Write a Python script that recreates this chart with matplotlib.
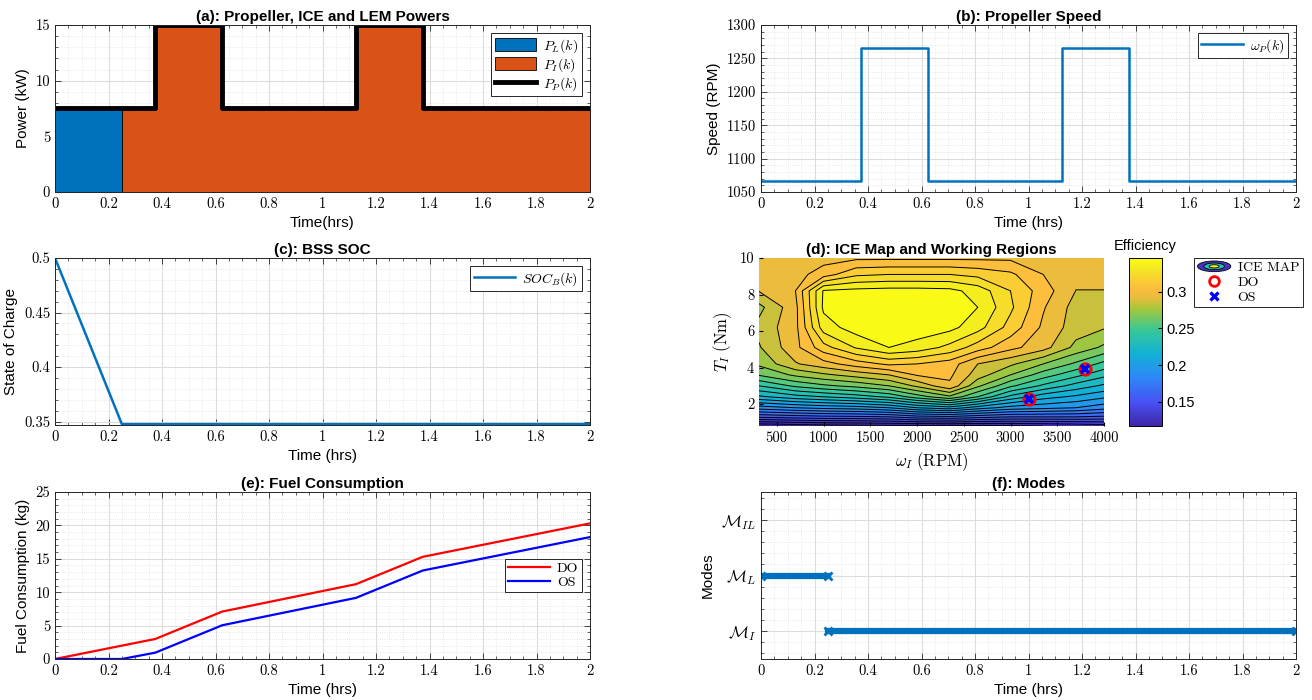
"""
hybrid_ship_results.py — six-panel overview of the hybrid propulsion run:
powers, propeller speed, battery SOC, ICE map, fuel use and modes.
"""

import matplotlib
matplotlib.use("Agg")
import matplotlib.pyplot as plt
import numpy as np
from matplotlib.colors import LinearSegmentedColormap, Normalize
from matplotlib.cm import ScalarMappable
from matplotlib.lines import Line2D
from matplotlib.patches import Ellipse, Patch, Rectangle
from matplotlib.legend_handler import HandlerBase
from matplotlib.ticker import AutoMinorLocator, FuncFormatter

plt.rcParams["font.family"] = ["Liberation Sans", "DejaVu Sans"]
plt.rcParams["mathtext.fontset"] = "cm"

# ── Data ──────────────────────────────────────────────────────────────────────

# (a) powers, step-wise in time (hrs)
power_t = [0, 0.25, 0.375, 0.625, 1.125, 1.375, 2.0]
p_prop = [7.5, 7.5, 15, 7.5, 15, 7.5, 7.5]
p_lem = [7.5, 0, 0, 0, 0, 0, 0]
p_ice = [0, 7.5, 15, 7.5, 15, 7.5, 7.5]

# (b) propeller speed
speed_t = [0, 0.375, 0.625, 1.125, 1.375, 2.0]
speed_rpm = [1066, 1266, 1066, 1266, 1066, 1066]

# (c) battery SOC
soc_t = [0, 0.25, 2.0]
soc = [0.5, 0.3476, 0.3476]

# (d) ICE efficiency map + operating points
map_speed = [310, 700, 1000, 1350, 1700, 2000, 2350, 2650, 3000, 3350, 3700, 4000]
map_torque = [0.8, 1.3, 1.8, 2.4, 3.0, 3.6, 4.2, 5.1, 6.2, 7.3, 8.2, 9.1, 10.0]
map_eff = [
    [0.110, 0.113, 0.115, 0.116, 0.117, 0.117, 0.118, 0.117, 0.118, 0.120, 0.122, 0.125],
    [0.152, 0.155, 0.157, 0.158, 0.160, 0.166, 0.168, 0.164, 0.160, 0.160, 0.160, 0.158],
    [0.185, 0.190, 0.193, 0.195, 0.200, 0.210, 0.216, 0.205, 0.196, 0.193, 0.190, 0.184],
    [0.218, 0.226, 0.230, 0.235, 0.242, 0.255, 0.268, 0.250, 0.227, 0.214, 0.208, 0.202],
    [0.240, 0.252, 0.258, 0.263, 0.270, 0.282, 0.298, 0.272, 0.252, 0.238, 0.226, 0.218],
    [0.261, 0.272, 0.278, 0.284, 0.290, 0.301, 0.302, 0.285, 0.270, 0.255, 0.243, 0.233],
    [0.272, 0.289, 0.296, 0.305, 0.312, 0.310, 0.305, 0.290, 0.282, 0.270, 0.258, 0.247],
    [0.279, 0.297, 0.316, 0.331, 0.340, 0.336, 0.327, 0.315, 0.303, 0.294, 0.277, 0.268],
    [0.283, 0.297, 0.335, 0.345, 0.346, 0.346, 0.343, 0.334, 0.316, 0.298, 0.285, 0.281],
    [0.277, 0.297, 0.342, 0.345, 0.346, 0.346, 0.345, 0.340, 0.322, 0.301, 0.286, 0.286],
    [0.2905, 0.300, 0.341, 0.343, 0.344, 0.344, 0.343, 0.336, 0.320, 0.305, 0.2898, 0.2898],
    [0.292, 0.296, 0.305, 0.318, 0.320, 0.320, 0.320, 0.317, 0.312, 0.300, 0.293, 0.293],
    [0.293, 0.294, 0.296, 0.298, 0.298, 0.298, 0.298, 0.298, 0.298, 0.296, 0.294, 0.294],
]
op_speed = [3200, 3800]
op_torque = [2.3, 3.9]

# (e) cumulative fuel
fuel_t = [0, 0.25, 0.375, 0.625, 1.125, 1.375, 2.0]
fuel_do = [0, 2.0, 3.0, 7.1, 11.2, 15.3, 20.3]
fuel_os = [0, 0, 0.95, 5.05, 9.15, 13.25, 18.25]

# (f) operating modes (1 = M_I, 2 = M_L, 3 = M_IL)
mode_l_t = [0, 0.25]
mode_l = [2, 2]
mode_i_t = [0.25, 2.0]
mode_i = [1, 1]
mode_ticks = [1, 2, 3]
mode_labels = [r"$\mathcal{M}_{I}$", r"$\mathcal{M}_{L}$", r"$\mathcal{M}_{IL}$"]

# ── Style ─────────────────────────────────────────────────────────────────────

BLUE = "#0072BD"
ORANGE = "#D95319"
PARULA = LinearSegmentedColormap.from_list("parula", [
    (0.000, (0.2422, 0.1504, 0.6603)),
    (0.143, (0.2810, 0.3228, 0.9579)),
    (0.286, (0.1786, 0.5289, 0.9682)),
    (0.429, (0.0689, 0.6948, 0.8394)),
    (0.571, (0.2161, 0.7843, 0.5923)),
    (0.700, (0.6500, 0.7800, 0.2300)),
    (0.760, (0.9000, 0.7400, 0.2400)),
    (0.820, (0.9900, 0.7400, 0.2400)),
    (0.900, (0.9650, 0.8500, 0.1700)),
    (0.950, (0.9600, 0.9300, 0.1200)),
    (1.000, (0.9769, 0.9839, 0.0805))])

W, H = 1312, 700


def rect(left, right, top, bottom):
    return [left / W, 1 - bottom / H, (right - left) / W, (bottom - top) / H]


def matlab_axes(ax, yminor=5):
    ax.set_axisbelow(True)
    ax.grid(True, which="major", color="#dcdcdc", lw=0.8)
    ax.grid(True, which="minor", color="#e2e2e2", lw=0.6, ls=":")
    ax.xaxis.set_minor_locator(AutoMinorLocator(4))
    ax.yaxis.set_minor_locator(AutoMinorLocator(yminor))
    ax.tick_params(which="both", direction="in", top=True, right=True,
                   labelsize=10.5, labelfontfamily="cmr10", color="#262626")
    ax.tick_params(which="major", length=4, width=0.6)
    ax.tick_params(which="minor", length=2, width=0.5)
    for s in ax.spines.values():
        s.set_color("#262626")
        s.set_linewidth(0.7)
    ax.xaxis.set_major_formatter(FuncFormatter(lambda v, _: f"{v:g}"))
    ax.yaxis.set_major_formatter(FuncFormatter(lambda v, _: f"{v:g}"))


def time_axis(ax, label="Time (hrs)"):
    ax.set_xlim(0, 2)
    ax.set_xticks(np.arange(0, 2.01, 0.2))
    ax.set_xlabel(label, fontsize=11)


def legend(ax, handles, labels, **kw):
    opts = dict(fancybox=False, edgecolor="#262626", framealpha=1, fontsize=10,
                borderaxespad=0.6, handlelength=3.0, labelspacing=0.1,
                borderpad=0.25, handletextpad=0.5)
    opts.update(kw)
    lg = ax.legend(handles, labels, **opts)
    lg.get_frame().set_linewidth(0.7)
    return lg


class ContourKey(HandlerBase):
    """Legend key that mimics MATLAB's contour icon."""
    def create_artists(self, legend, orig_handle, xdescent, ydescent,
                       width, height, fontsize, trans):
        cx, cy = width / 2 - xdescent, height / 2 - ydescent
        out = []
        for scale, t in ((1.0, 0.05), (0.62, 0.5), (0.3, 0.97)):
            out.append(Ellipse((cx, cy), width * scale, height * 1.1 * scale,
                               facecolor=PARULA(t), edgecolor="k", lw=0.6,
                               transform=trans))
        return out


TITLE = dict(fontsize=11, fontweight="bold", pad=3)

fig = plt.figure(figsize=(W / 100, H / 100), dpi=100)

# (a) powers
ax = fig.add_axes(rect(55, 590, 25, 192))
matlab_axes(ax)
ax.fill_between(power_t, 0, p_lem, step="post", facecolor=BLUE, edgecolor="k", lw=0.6)
ax.fill_between(power_t, p_lem, np.add(p_lem, p_ice), step="post",
                facecolor=ORANGE, edgecolor="k", lw=0.6)
ax.step(power_t, p_prop, where="post", color="k", lw=3.5)
time_axis(ax, "Time(hrs)")
ax.set_ylim(0, 15)
ax.set_yticks([0, 5, 10, 15])
ax.set_ylabel("Power (kW)", fontsize=11)
ax.set_title("(a): Propeller, ICE and LEM Powers", **TITLE)
legend(ax, [Patch(facecolor=BLUE, edgecolor="k", lw=0.6),
            Patch(facecolor=ORANGE, edgecolor="k", lw=0.6),
            Line2D([], [], color="k", lw=3.5)],
       [r"$P_L(k)$", r"$P_I(k)$", r"$P_P(k)$"], loc="upper right", handleheight=1.0)

# (b) propeller speed
ax = fig.add_axes(rect(761, 1296, 25, 192))
matlab_axes(ax)
ax.step(speed_t, speed_rpm, where="post", color=BLUE, lw=1.8)
time_axis(ax)
ax.set_ylim(1050, 1300)
ax.set_ylabel("Speed (RPM)", fontsize=11)
ax.set_title("(b): Propeller Speed", **TITLE)
legend(ax, [Line2D([], [], color=BLUE, lw=1.8)], [r"$\omega_P(k)$"], loc="upper right")

# (c) SOC
ax = fig.add_axes(rect(55, 590, 258, 425))
matlab_axes(ax)
ax.plot(soc_t, soc, color=BLUE, lw=1.8)
time_axis(ax)
ax.set_ylim(0.3468, 0.5)
ax.set_yticks([0.35, 0.4, 0.45, 0.5])
ax.set_ylabel("State of Charge", fontsize=11)
ax.set_title("(c): BSS SOC", **TITLE)
legend(ax, [Line2D([], [], color=BLUE, lw=1.8)], [r"$SOC_B(k)$"], loc="upper right")

# (d) ICE map
ax = fig.add_axes(rect(759, 1104, 258, 426))
norm = Normalize(0.117, 0.346)
levels = np.round(np.arange(0.11, 0.355, 0.01), 3)
ax.contourf(map_speed, map_torque, map_eff, levels=levels, cmap=PARULA, norm=norm)
ax.contour(map_speed, map_torque, map_eff, levels=levels[1:-1], colors="k", linewidths=0.7)
ax.plot(op_speed, op_torque, ls="none", marker="o", mfc="none", mec="r", mew=2.2, ms=8)
ax.plot(op_speed, op_torque, ls="none", marker="x", color="b", mew=2.6, ms=6)
ax.set_xlim(310, 4000)
ax.set_ylim(0.8, 10)
ax.set_xticks(np.arange(500, 4001, 500))
ax.set_yticks([2, 4, 6, 8, 10])
ax.tick_params(direction="in", labelsize=10.5, labelfontfamily="cmr10", length=3)
for s in ax.spines.values():
    s.set_visible(False)
ax.set_xlabel(r"$\omega_I\ \mathrm{(RPM)}$", fontsize=12)
ax.set_ylabel(r"$T_I\ \mathrm{(Nm)}$", fontsize=12)
ax.set_title("(d): ICE Map and Working Regions", **TITLE)

cax = fig.add_axes(rect(1129, 1162, 258, 426))
cb = fig.colorbar(ScalarMappable(norm=norm, cmap=PARULA), cax=cax)
cb.set_ticks([0.15, 0.2, 0.25, 0.3])
cb.ax.yaxis.set_major_formatter(FuncFormatter(lambda v, _: f"{v:g}"))
cb.ax.tick_params(direction="in", labelsize=10.5, length=3)
cb.outline.set_linewidth(0.7)
cax.set_title("Efficiency", fontsize=10.5, pad=6)

key = Rectangle((0, 0), 1, 1)
legend(ax, [key,
            Line2D([], [], ls="none", marker="o", mfc="none", mec="r", mew=2, ms=7),
            Line2D([], [], ls="none", marker="x", color="b", mew=2.4, ms=6)],
       ["ICE MAP", "DO", "OS"], handler_map={key: ContourKey()},
       loc="upper left", bbox_to_anchor=(1194 / W, 1 - 258 / H),
       bbox_transform=fig.transFigure, prop={"family": "cmr10", "size": 10},
       handlelength=2.4, borderaxespad=0, labelspacing=0.15)

# (e) fuel consumption
ax = fig.add_axes(rect(55, 590, 492, 659))
matlab_axes(ax)
ax.plot(fuel_t, fuel_do, color="r", lw=1.6)
ax.plot(fuel_t, fuel_os, color="b", lw=1.6)
time_axis(ax)
ax.set_ylim(0, 25)
ax.set_yticks([0, 5, 10, 15, 20, 25])
ax.set_ylabel("Fuel Consumption (kg)", fontsize=11)
ax.set_title("(e): Fuel Consumption", **TITLE)
legend(ax, [Line2D([], [], color="r", lw=1.6), Line2D([], [], color="b", lw=1.6)],
       ["DO", "OS"], loc="center right", prop={"family": "cmr10", "size": 10})

# (f) modes
ax = fig.add_axes(rect(761, 1296, 492, 659))
matlab_axes(ax)
for t, m in ((mode_l_t, mode_l), (mode_i_t, mode_i)):
    ax.plot(t, m, color=BLUE, lw=4.5, marker="x", ms=6, mew=2)
time_axis(ax)
ax.set_ylim(0.5, 3.5)
ax.set_yticks(mode_ticks)
ax.set_yticklabels(mode_labels, fontsize=12)
ax.set_ylabel("Modes", fontsize=11)
ax.set_title("(f): Modes", **TITLE)

fig.savefig("out.png", dpi=100)
